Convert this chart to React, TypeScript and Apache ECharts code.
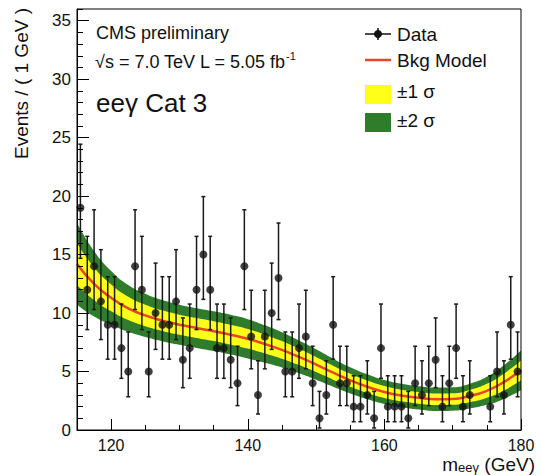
import React, { useEffect, useRef } from "react";
import * as echarts from "echarts";

const FONT = "'Liberation Sans', Arial, Helvetica, sans-serif";

// Data: bin centres (GeV) and observed counts per 1 GeV bin
const binCenters = [
  115.5, 116.5, 117.5, 118.5, 119.5, 120.5, 121.5, 122.5, 123.5, 124.5, 125.5, 126.5, 127.5,
  128.5, 129.5, 130.5, 131.5, 132.5, 133.5, 134.5, 135.5, 136.5, 137.5, 138.5, 139.5, 140.5,
  141.5, 142.5, 143.5, 144.5, 145.5, 146.5, 147.5, 148.5, 149.5, 150.5, 151.5, 152.5, 153.5,
  154.5, 155.5, 156.5, 157.5, 158.5, 159.5, 160.5, 161.5, 162.5, 163.5, 164.5, 165.5, 166.5,
  167.5, 168.5, 169.5, 170.5, 171.5, 172.5, 173.5, 174.5, 175.5, 176.5, 177.5, 178.5, 179.5,
];
const counts = [
  19, 12, 14, 11, 9, 9, 7, 5, 14, 12, 5, 10, 9, 9, 11, 6, 7, 12, 15, 12, 7, 7, 6,
  4, 14, 8, 3, 8, 10, 13, 5, 5, 7, 8, 4, 1, 3, 9, 4, 4, 2, 2, 3, 1,
  7, 2, 2, 2, 1, 4, 3, 4, 6, 2, 4, 7, 2, 3, 0, 0, 2, 5, 3, 9, 5,
];

// Poisson (Garwood 68%) error half-widths, indexed by count
const poissonErrLow = [0, 0.827, 1.292, 1.633, 1.914, 2.16, 2.38, 2.581, 2.768, 2.943, 3.109, 3.266, 3.415, 3.559, 3.7, 3.83, 3.96, 4.08, 4.2, 4.32];
const poissonErrHigh = [1.841, 2.3, 2.638, 2.918, 3.163, 3.382, 3.584, 3.77, 3.95, 4.11, 4.27, 4.42, 4.56, 4.7, 4.83, 4.96, 5.08, 5.2, 5.32, 5.44];

// Background model curve and uncertainty bands
const modelMass = [115, 117.5, 120, 122.5, 125, 127.5, 130, 132.5, 135, 137.5, 140, 142.5, 145, 147.5, 150, 152.5, 155, 157.5, 160, 162.5, 165, 167.5, 170, 172.5, 175, 177.5, 180];
const bkgModel = [14.2, 12.5, 11.3, 10.4, 9.8, 9.35, 9.0, 8.72, 8.45, 8.15, 7.8, 7.35, 6.85, 6.25, 5.6, 4.9, 4.25, 3.7, 3.25, 2.95, 2.75, 2.63, 2.65, 2.9, 3.35, 4.1, 5.1];
const sigma1 = [1.8, 1.4, 1.15, 1.0, 0.92, 0.88, 0.86, 0.85, 0.85, 0.85, 0.84, 0.8, 0.75, 0.7, 0.65, 0.6, 0.56, 0.53, 0.51, 0.5, 0.5, 0.5, 0.5, 0.53, 0.6, 0.72, 0.85];
const sigma2 = [3.5, 2.8, 2.3, 2.0, 1.85, 1.76, 1.72, 1.7, 1.7, 1.7, 1.68, 1.6, 1.5, 1.4, 1.3, 1.2, 1.12, 1.06, 1.02, 1.0, 1.0, 1.0, 1.0, 1.06, 1.2, 1.44, 1.7];

const xLabelValues = [120, 140, 160, 180];
const yLabelValues = [0, 5, 10, 15, 20, 25, 30, 35];

const GREEN = "#2f7d2c";
const YELLOW = "#ffff1a";
const RED = "#e8452a";

export default function App() {
  const ref = useRef<HTMLDivElement>(null);
  useEffect(() => {
    document.body.style.margin = "0";
    const chart = echarts.init(ref.current!, null, { renderer: "svg" });

    const pts: number[][] = [];
    const bars: number[][] = [];
    binCenters.forEach((x, i) => {
      const n = counts[i];
      if (n > 0) {
        pts.push([x, n]);
        bars.push([x, n - poissonErrLow[n], n + poissonErrHigh[n]]);
      }
    });

    const upper2 = modelMass.map((m, i) => [m, bkgModel[i] + sigma2[i]]);
    const upper1 = modelMass.map((m, i) => [m, bkgModel[i] + sigma1[i]]);
    const lower1 = modelMass.map((m, i) => [m, bkgModel[i] - sigma1[i]]);
    const lower2 = modelMass.map((m, i) => [m, bkgModel[i] - sigma2[i]]);
    const center = modelMass.map((m, i) => [m, bkgModel[i]]);

    // Band layers filled down to the axis, painted in order
    const fillLayer = (data: number[][], color: string, z: number) => ({
      type: "line",
      data,
      smooth: true,
      showSymbol: false,
      symbol: "none",
      lineStyle: { width: 0, opacity: 0 },
      areaStyle: { color, opacity: 1, origin: "start" },
      silent: true,
      z,
    });

    const txt = (text: string, x: number, y: number, size: number, extra: any = {}) => ({
      type: "text",
      x,
      y,
      style: {
        text,
        fontSize: size,
        fontFamily: FONT,
        fill: "#111",
        align: "left",
        textAlign: "left",
        verticalAlign: "middle",
        textVerticalAlign: "middle",
        ...extra,
      },
    });

    chart.setOption({
      animation: false,
      grid: {
        left: 77,
        top: 9,
        right: 21,
        bottom: 45,
        show: true,
        borderColor: "#000",
        borderWidth: 1,
        backgroundColor: "transparent",
        containLabel: false,
        outerBoundsMode: "none",
        z: 20,
      },
      xAxis: [
        {
          type: "value",
          min: 115,
          max: 180,
          interval: 5,
          z: 20,
          axisLine: { show: true, onZero: false, lineStyle: { color: "#000", width: 1 } },
          axisTick: { show: true, inside: true, length: 5, lineStyle: { color: "#000" } },
          axisLabel: {
            customValues: xLabelValues,
            formatter: (v: number) => (v % 20 === 0 ? String(v) : ""),
            fontSize: 16,
            fontFamily: FONT,
            color: "#111",
            margin: 7,
          },
          splitLine: { show: false },
        },
        {
          type: "value",
          min: 115,
          max: 180,
          interval: 5,
          position: "bottom",
          z: 20,
          axisLine: { show: false, onZero: false },
          axisTick: { show: true, inside: true, length: 11, customValues: xLabelValues, lineStyle: { color: "#000" } },
          axisLabel: { show: false },
          splitLine: { show: false },
        },
      ],
      yAxis: [
        {
          type: "value",
          min: 0,
          max: 36,
          interval: 1,
          z: 20,
          axisLine: { show: true, onZero: false, lineStyle: { color: "#000", width: 1 } },
          axisTick: { show: true, inside: true, length: 6, lineStyle: { color: "#000" } },
          axisLabel: {
            customValues: yLabelValues,
            formatter: (v: number) => (v % 5 === 0 && v <= 35 ? String(v) : ""),
            fontSize: 17,
            fontFamily: FONT,
            color: "#111",
            margin: 6,
          },
          splitLine: { show: false },
        },
        {
          type: "value",
          min: 0,
          max: 36,
          interval: 1,
          position: "left",
          z: 20,
          axisLine: { show: false, onZero: false },
          axisTick: { show: true, inside: true, length: 12, customValues: yLabelValues, lineStyle: { color: "#000" } },
          axisLabel: { show: false },
          splitLine: { show: false },
        },
      ],
      series: [
        fillLayer(upper2, GREEN, 1),
        fillLayer(upper1, YELLOW, 2),
        fillLayer(lower1, GREEN, 3),
        fillLayer(lower2, "#ffffff", 4),
        {
          type: "line",
          data: center,
          smooth: true,
          showSymbol: false,
          symbol: "none",
          lineStyle: { color: RED, width: 2.5 },
          z: 5,
        },
        {
          type: "custom",
          data: bars,
          encode: { x: 0, y: [1, 2] },
          z: 6,
          renderItem: (params: any, api: any) => {
            const x = api.value(0);
            const lo = api.coord([x, api.value(1)]);
            const hi = api.coord([x, api.value(2)]);
            const st = { stroke: "#1a1a1a", lineWidth: 1.5 };
            return {
              type: "group",
              children: [
                { type: "line", shape: { x1: lo[0], y1: lo[1], x2: hi[0], y2: hi[1] }, style: st },
                { type: "line", shape: { x1: lo[0] - 2, y1: lo[1], x2: lo[0] + 2, y2: lo[1] }, style: st },
                { type: "line", shape: { x1: hi[0] - 2, y1: hi[1], x2: hi[0] + 2, y2: hi[1] }, style: st },
              ],
            };
          },
        },
        {
          type: "scatter",
          data: pts,
          symbol: "circle",
          symbolSize: 8,
          itemStyle: { color: "#111" },
          z: 7,
        },
      ],
      graphic: [
        // y axis title
        {
          type: "text",
          x: 21,
          y: 8,
          rotation: Math.PI / 2,
          style: {
            text: "Events / ( 1 GeV )",
            fontSize: 19,
            fontFamily: FONT,
            fill: "#111",
            align: "right",
            textAlign: "right",
            verticalAlign: "middle",
            textVerticalAlign: "middle",
          },
        },
        // x axis title
        {
          type: "text",
          x: 535,
          y: 464,
          style: {
            text: "{m|m}{s|eeγ}{m| (GeV)}",
            fontFamily: FONT,
            fill: "#111",
            align: "right",
            textAlign: "right",
            verticalAlign: "middle",
            textVerticalAlign: "middle",
            rich: {
              m: { fontSize: 19, fontFamily: FONT, lineHeight: 20, fill: "#111" },
              s: { fontSize: 13, fontFamily: FONT, lineHeight: 13, verticalAlign: "bottom", fill: "#111" },
            },
          },
        },
        txt("CMS preliminary", 96, 33, 18),
        {
          type: "text",
          x: 95,
          y: 62,
          style: {
            text: "{n|√s = 7.0 TeV L = 5.05 fb}{s|-1}",
            fontFamily: FONT,
            fill: "#111",
            align: "left",
            textAlign: "left",
            verticalAlign: "middle",
            textVerticalAlign: "middle",
            rich: {
              n: { fontSize: 18, fontFamily: FONT, lineHeight: 24, fill: "#111" },
              s: { fontSize: 11, fontFamily: FONT, lineHeight: 14, verticalAlign: "top", fill: "#111" },
            },
          },
        },
        txt("eeγ Cat 3", 96, 103, 26),
        // legend
        { type: "line", shape: { x1: 365, y1: 34, x2: 391, y2: 34 }, style: { stroke: "#111", lineWidth: 1.5 } },
        { type: "line", shape: { x1: 378, y1: 28, x2: 378, y2: 40 }, style: { stroke: "#111", lineWidth: 1.5 } },
        { type: "circle", shape: { cx: 378, cy: 34, r: 4 }, style: { fill: "#111" } },
        txt("Data", 397, 34, 19),
        { type: "line", shape: { x1: 365, y1: 60, x2: 391, y2: 60 }, style: { stroke: RED, lineWidth: 2.5 } },
        txt("Bkg Model", 397, 60, 19),
        { type: "rect", shape: { x: 365, y: 85, width: 26, height: 19 }, style: { fill: YELLOW } },
        txt("±1 σ", 397, 91, 19),
        { type: "rect", shape: { x: 365, y: 113, width: 26, height: 19 }, style: { fill: GREEN } },
        txt("±2 σ", 397, 120, 19),
      ],
    });
    return () => chart.dispose();
  }, []);
  return <div ref={ref} style={{ width: 542, height: 475 }} />;
}
